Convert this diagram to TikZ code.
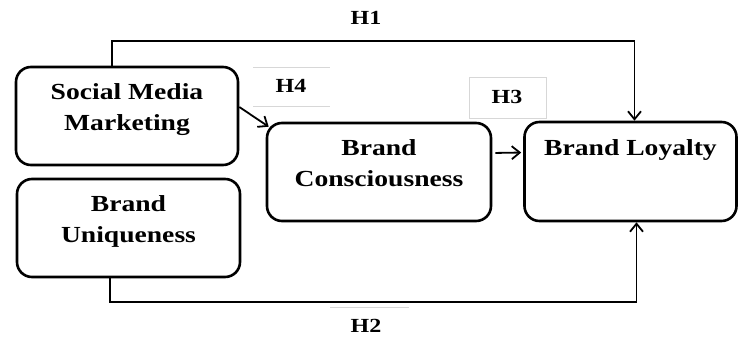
\documentclass[tikz,border=0pt]{standalone}
\usepackage{fontspec}
\setmainfont{Liberation Serif}[FakeStretch=1.2]
\usetikzlibrary{arrows.meta,positioning,calc}
\definecolor{boxline}{RGB}{0,0,0}
\definecolor{faint}{RGB}{215,215,215}

\begin{document}
\begin{tikzpicture}[x=1pt,y=-1pt,
    box/.style={draw=boxline,line width=2.6pt,rounded corners=15pt,inner sep=0pt},
    lbl/.style={font=\fontsize{23}{31}\selectfont\bfseries,align=center,inner sep=0pt},
    hyp/.style={font=\fontsize{20}{24}\selectfont\bfseries,inner sep=0pt},
    conn/.style={line width=1.8pt,-{Straight Barb[length=8pt,width=13pt,line width=1.8pt]}},
    rim/.style={draw=faint,line width=0.8pt}]
  % page size of the reference
  \useasboundingbox (0,0) rectangle (739,342);
  % ---------- the four constructs ----------
  \node[box,minimum width=222pt,minimum height=98pt] (smm) at (127,116) {};
  \node[box,minimum width=223pt,minimum height=98pt] (uni) at (128.5,228) {};
  \node[box,minimum width=224pt,minimum height=98pt] (bc) at (379,172) {};
  \node[box,minimum width=212pt,minimum height=99pt] (loy) at (630.5,171.5) {};
  \node[lbl,anchor=north] (smmtxt) at ([yshift=-18pt]smm.north) {Social Media\\Marketing};
  \node[lbl,anchor=north] (unitxt) at ([yshift=-18pt]uni.north) {Brand\\Uniqueness};
  \node[lbl,anchor=north] (bctxt) at ([yshift=-18pt]bc.north) {Brand\\Consciousness};
  \node[lbl,anchor=north] (loytxt) at ([yshift=-19pt]loy.north) {Brand Loyalty};
  % ---------- hypothesis labels ----------
  \node[hyp] (h1) at (366,18) {H1};
  \node[hyp] (h2) at (366,326) {H2};
  \node[hyp] (h3) at (507,97) {H3};
  \node[hyp] (h4) at (291,86) {H4};
  \draw[rim] (469,77) rectangle (546,118);
  \draw[rim] (253,67) -- (330,67) (253,106) -- (330,106);
  \draw[rim] (330,40) -- (409,40) (330,307) -- (409,307);
  % ---------- paths ----------
  \draw[conn] ([xshift=-15pt]smm.north) -- ++(0,-25) -| ([xshift=4pt]loy.north);
  \draw[conn] ([xshift=-18.5pt]uni.south) -- ++(0,24) -| ([xshift=6pt]loy.south);
  \draw[conn] ([yshift=9pt]smm.east) -- ([shift={(3pt,-5pt)}]bc.north west);
  \draw[conn,shorten <=3pt,shorten >=2pt] ([yshift=19pt]bc.east) -- ([yshift=19pt]loy.west);
\end{tikzpicture}
\end{document}
